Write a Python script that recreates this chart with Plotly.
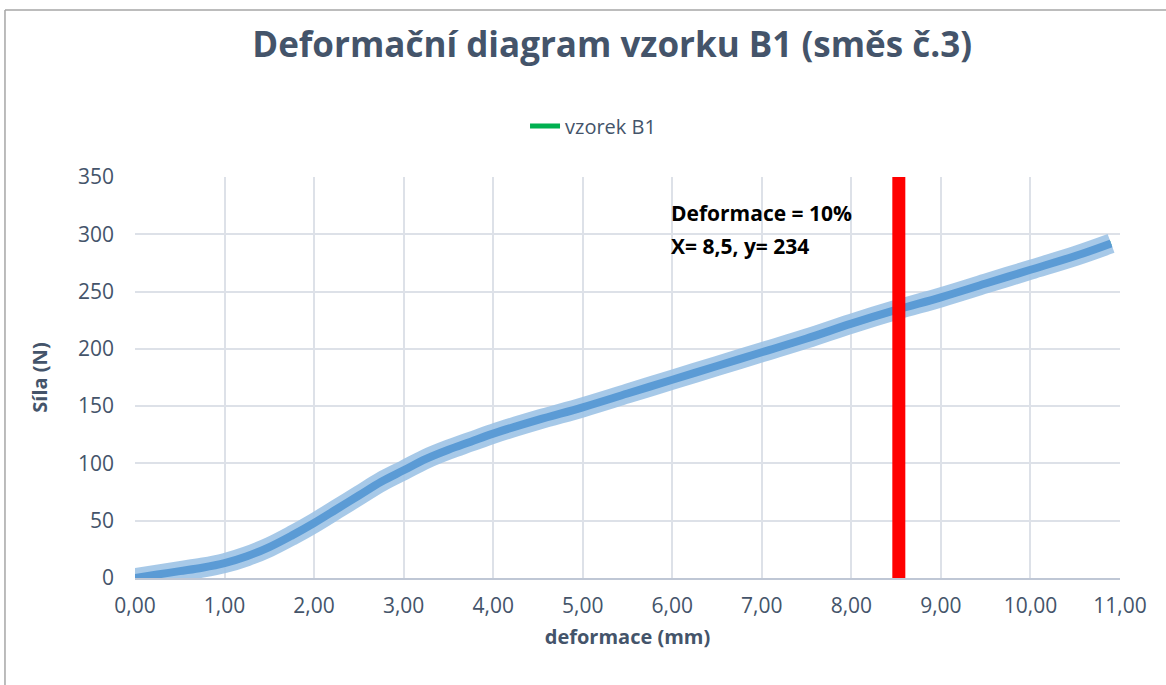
import plotly.graph_objects as go

# Data
deformace = [0, 0.25, 0.5, 0.75, 1.0, 1.25, 1.5, 1.75, 2.0, 2.25, 2.5, 2.75, 3.0, 3.25, 3.5, 3.75,
             4.0, 4.5, 5.0, 5.5, 6.0, 6.5, 7.0, 7.5, 8.0, 8.5, 9.0, 9.5, 10.0, 10.5, 10.9]
sila = [0, 3, 6, 9, 13, 19, 27, 37, 48, 60, 72, 84, 94, 104, 112, 119,
        126, 138, 149, 161, 173, 185, 197, 209, 222, 234, 245, 257, 269, 281, 292]

marker_x = [8.53, 8.53]
marker_y = [0, 350]

x_ticks = [0, 1, 2, 3, 4, 5, 6, 7, 8, 9, 10, 11]
y_ticks = [0, 50, 100, 150, 200, 250, 300, 350]

FONT = "Open Sans"
TXT = "#44546A"

fig = go.Figure()

fig.add_trace(go.Scatter(x=deformace, y=sila, mode="lines", name="vzorek B1",
                         line=dict(color="#00B050", width=5), showlegend=True))
fig.add_trace(go.Scatter(x=deformace, y=sila, mode="lines", showlegend=False,
                         line=dict(color="rgba(157,195,230,0.9)", width=20, shape="spline")))
fig.add_trace(go.Scatter(x=deformace, y=sila, mode="lines", showlegend=False,
                         line=dict(color="#5B9BD5", width=8, shape="spline")))
fig.add_trace(go.Scatter(x=marker_x, y=marker_y, mode="lines", showlegend=False,
                         line=dict(color="#FF0000", width=13)))

fig.add_annotation(x=5.96, y=318.5, xref="x", yref="y", text="<b>Deformace = 10%</b>",
                   showarrow=False, xanchor="left", yanchor="middle",
                   font=dict(family=FONT, size=21, color="#000000"))
fig.add_annotation(x=5.96, y=289.5, xref="x", yref="y", text="<b>X= 8,5, y= 234</b>",
                   showarrow=False, xanchor="left", yanchor="middle",
                   font=dict(family=FONT, size=21, color="#000000"))

fig.add_shape(type="line", xref="paper", yref="paper", x0=-0.132, x1=-0.132, y0=-0.5, y1=1.4165,
              line=dict(color="#A6A6A6", width=1.5))
fig.add_shape(type="line", xref="paper", yref="paper", x0=-0.132, x1=1.2, y0=1.4165, y1=1.4165,
              line=dict(color="#A6A6A6", width=1.5))

fig.update_layout(
    width=1166, height=685,
    margin=dict(l=135, r=46, t=177, b=107),
    paper_bgcolor="white", plot_bgcolor="white",
    separators=",.",
    title=dict(text="<b>Deformační diagram vzorku B1 (směs č.3)</b>",
               x=0.525, xanchor="center", y=0.934, yanchor="middle",
               font=dict(family=FONT, size=35, color=TXT)),
    legend=dict(orientation="h", x=0.465, xanchor="center", y=1.127, yanchor="middle",
                font=dict(family=FONT, size=20, color=TXT)),
    xaxis=dict(range=[0, 11], tickvals=x_ticks, tickformat=".2f",
               showgrid=True, gridcolor="#DDE1E8", gridwidth=1.5,
               showline=True, linecolor="#BFC7D5", linewidth=1.5,
               zeroline=False, ticks="", ticklabelstandoff=8,
               tickfont=dict(family=FONT, size=21, color=TXT),
               title=dict(text="<b>deformace (mm)</b>", standoff=12,
                          font=dict(family=FONT, size=20, color=TXT))),
    yaxis=dict(range=[0, 350], tickvals=y_ticks,
               showgrid=True, gridcolor="#DDE1E8", gridwidth=1.5,
               showline=False, zeroline=False, ticks="", ticklabelstandoff=20,
               tickfont=dict(family=FONT, size=21, color=TXT),
               title=dict(text="<b>Síla (N)</b>", standoff=24,
                          font=dict(family=FONT, size=20, color=TXT))),
)

fig.write_html("out.html", config={"displayModeBar": False},
               post_script="document.body.style.margin='0';")
